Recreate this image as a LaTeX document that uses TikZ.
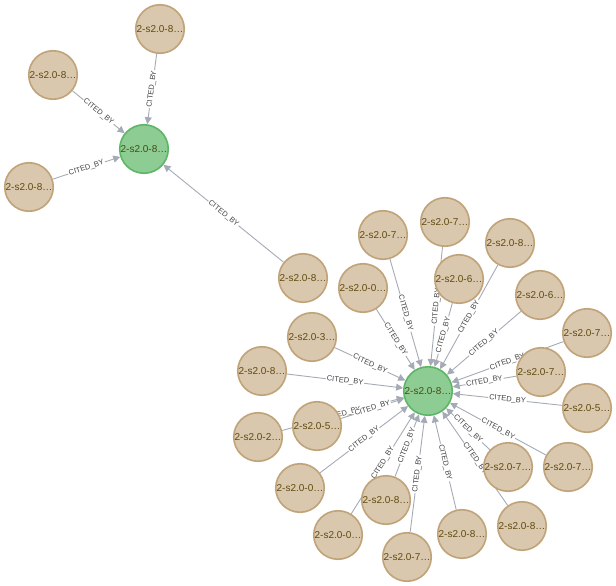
\documentclass[tikz,border=0pt]{standalone}
\usepackage{fontspec}
\setmainfont{Liberation Sans}
\usetikzlibrary{arrows.meta,backgrounds}
\definecolor{tanf}{HTML}{D9C8AE}
\definecolor{tanb}{HTML}{C0A378}
\definecolor{tant}{HTML}{604A0E}
\definecolor{grf}{HTML}{8DCC93}
\definecolor{grb}{HTML}{5DB665}
\definecolor{grt}{HTML}{4A4A14}
\definecolor{edgec}{HTML}{A5ABB6}
\definecolor{labc}{HTML}{444444}
\begin{document}
\begin{tikzpicture}[x=1pt,y=-1pt,
  paper/.style={circle, minimum size=48.5pt, inner sep=0pt, line width=1.6pt,
    draw=tanb, fill=tanf, text=tant, font=\fontsize{10}{12}\selectfont},
  hub/.style={paper, draw=grb, fill=grf, text=grt},
  cite/.style={draw=edgec, line width=0.9pt, -{Triangle[length=7pt,width=7pt]}},
  elab/.style={sloped, midway, fill=white, inner sep=1pt, text=labc,
    font=\fontsize{7.5}{9}\selectfont}
]
\useasboundingbox (0,0) rectangle (616,586);
% hubs
\node[hub] (a) at (144,149) {2-s2.0-8…};
\node[hub] (c) at (428,391) {2-s2.0-8…};
% top cluster
\node[paper] (t1) at (160,29) {2-s2.0-8…};
\node[paper] (t2) at (53,75) {2-s2.0-8…};
\node[paper] (t3) at (29,187) {2-s2.0-8…};
\node[paper] (b) at (303,278) {2-s2.0-8…};
% satellites of c
\node[paper] (s1) at (383,235) {2-s2.0-7…};
\node[paper] (s2) at (445,222) {2-s2.0-7…};
\node[paper] (s3) at (510,243) {2-s2.0-8…};
\node[paper] (s6) at (363,288) {2-s2.0-0…};
\node[paper] (s4) at (459,279) {2-s2.0-6…};
\node[paper] (s5) at (540,295) {2-s2.0-6…};
\node[paper] (s7) at (587,333) {2-s2.0-7…};
\node[paper] (s8) at (541,372) {2-s2.0-7…};
\node[paper] (s9) at (312,337) {2-s2.0-3…};
\node[paper] (s10) at (262,371) {2-s2.0-8…};
\node[paper] (s11) at (258,437) {2-s2.0-2…};
\node[paper] (s12) at (317,426) {2-s2.0-5…};
\node[paper] (s13) at (587,408) {2-s2.0-5…};
\node[paper] (s14) at (300,488) {2-s2.0-0…};
\node[paper] (s16) at (338,535) {2-s2.0-0…};
\node[paper] (s15) at (386,500) {2-s2.0-8…};
\node[paper] (s17) at (407,557) {2-s2.0-7…};
\node[paper] (s18) at (462,534) {2-s2.0-8…};
\node[paper] (s19) at (522,526) {2-s2.0-8…};
\node[paper] (s20) at (508,467) {2-s2.0-7…};
\node[paper] (s21) at (568,467) {2-s2.0-7…};
\begin{pgfonlayer}{background}
\fill[white] (0,0) rectangle (616,586);
\foreach \s in {t1,t2,t3,b}{
  \draw[cite] (\s) -- node[elab]{CITED\_BY} (a);
}
\foreach \s in {s1,s2,s3,s4,s5,s6,s7,s8,s9,s10,s11,s12,s13,s14,s15,s16,s17,s18,s19,s20,s21}{
  \draw[cite] (\s) -- node[elab]{CITED\_BY} (c);
}
\end{pgfonlayer}
\end{tikzpicture}
\end{document}
